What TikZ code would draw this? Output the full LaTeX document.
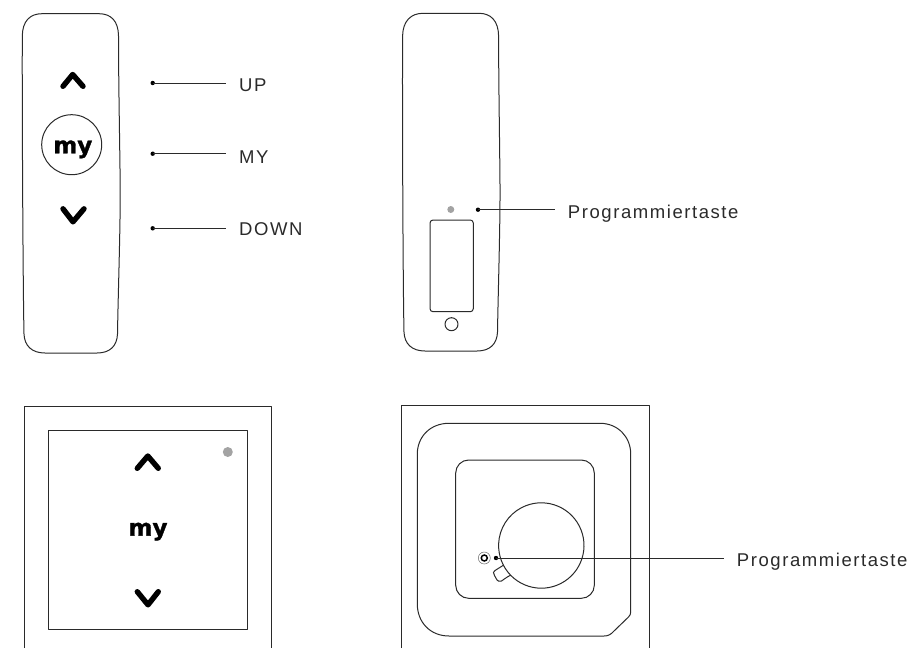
\documentclass[tikz,border=0pt]{standalone}
\usepackage{fontspec}
\setmainfont{Liberation Sans}
\newfontfamily\labelfont[LetterSpace=8.5]{Liberation Sans}
\newfontfamily\myfont[BoldFont={DejaVu Sans Bold},BoldFeatures={FakeBold=1.4}]{DejaVu Sans}
\definecolor{ink}{HTML}{2A2A2A}
\definecolor{ledgray}{HTML}{A3A3A3}
\tikzset{
  outline/.style={draw=ink,line width=1pt,line join=round},
  chevron/.style={draw=black,line width=5.4pt,line cap=round,line join=round},
  leadline/.style={draw=ink,line width=1pt},
  leaddot/.style={circle,fill=black,inner sep=0pt,minimum size=4.4pt},
  leadlabel/.style={anchor=base west,inner sep=0pt,inner xsep=13pt,text=ink,font=\fontsize{18.5}{20}\labelfont},
  led/.style={circle,fill=ledgray,inner sep=0pt},
  mytext/.style={inner sep=0pt,anchor=base,font=\fontsize{23}{25}\myfont\bfseries}
}
\begin{document}
\begin{tikzpicture}[x=1pt,y=1pt,yscale=-1]
\useasboundingbox (0,0) rectangle (913,648);
% --- remote, front
\draw[outline] (42,13.7) -- (99,13.7) .. controls (111,13.7) and (118.4,21) .. (118.5,36)
  .. controls (118.5,90) and (120.5,180) .. (120.2,200)
  .. controls (120,240) and (118,300) .. (117.5,334)
  .. controls (117,346) and (110,353) .. (97,353) -- (45,353)
  .. controls (32,353) and (24.5,346) .. (24,334)
  .. controls (23,290) and (22,100) .. (22.3,36)
  .. controls (22.5,21) and (30,13.7) .. (42,13.7) -- cycle;
\draw[chevron] (63,86.3) -- (72.7,74.5) -- (83,86.3);
\draw[chevron] (63,208.8) -- (73,221.8) -- (84,208.8);
\node[circle,outline,minimum size=60pt,inner sep=0pt] (mybtn) at (71.7,144.7) {};
\node[mytext] (mylogo) at (72.8,153.3) {my};
\node[leaddot] (dotup) at (152.7,83) {};
\node[leaddot] (dotmy) at (152.7,153.7) {};
\node[leaddot] (dotdown) at (152.7,228.3) {};
\node[leadlabel] (labup) at (226,91) {UP};
\node[leadlabel] (labmy) at (226,163.2) {MY};
\node[leadlabel] (labdown) at (226,235.2) {DOWN};
\draw[leadline] (dotup.center) -- (dotup.center -| labup.west);
\draw[leadline] (dotmy.center) -- (dotmy.center -| labmy.west);
\draw[leadline] (dotdown.center) -- (dotdown.center -| labdown.west);
% --- remote, back
\draw[outline] (423,13.3) -- (479,13.3) .. controls (491,13.3) and (498.4,21) .. (498.6,36)
  .. controls (498.6,90) and (500.3,180) .. (500,200)
  .. controls (499.8,240) and (498,300) .. (497.5,332)
  .. controls (497,344) and (490,351) .. (477,351) -- (425,351)
  .. controls (412,351) and (404.5,344) .. (404,332)
  .. controls (403,290) and (402.2,100) .. (402.6,36)
  .. controls (402.8,21) and (411,13.3) .. (423,13.3) -- cycle;
\node[led,minimum size=7pt] (ledback) at (450.8,209.5) {};
\draw[outline,rounded corners=3pt] (430,220) rectangle (473.3,311.7);
\node[circle,outline,minimum size=13pt,inner sep=0pt] (backbtn) at (451.5,324.2) {};
\node[leaddot] (dotback) at (478,209.7) {};
\node[leadlabel] (labback) at (554.7,218) {Programmiertaste};
\draw[leadline] (dotback.center) -- (dotback.center -| labback.west);
% --- wall switch, front
\draw[outline] (24,648) -- (24,406.3) -- (271.7,406.3) -- (271.7,648);
\draw[outline] (48.3,430.7) rectangle (247.3,629);
\node[led,minimum size=10pt] (ledwall) at (227.8,452) {};
\draw[chevron] (137.3,468.3) -- (147.8,456) -- (158.3,468.3);
\draw[chevron] (137.3,591.7) -- (148,604.8) -- (158.3,591.7);
\node[mytext] (mywall) at (148,535.6) {my};
% --- wall switch, back
\draw[outline] (401,648) -- (401,405.7) -- (649.3,405.7) -- (649.3,648);
\draw[outline] (449,423.3) -- (600,423.3) .. controls (618,423.3) and (630.7,437) .. (630.7,454)
  -- (630.7,612) .. controls (630.7,614) and (630,615.5) .. (628.5,617)
  -- (614,631) .. controls (611,634.5) and (608,636) .. (604,636)
  -- (449,636) .. controls (430,636) and (417.3,622) .. (417.3,604)
  -- (417.3,454) .. controls (417.3,437) and (430,423.3) .. (449,423.3) -- cycle;
\draw[outline,rounded corners=13pt] (455.7,460) rectangle (594.3,598.3);
\coordinate (hub) at (541.3,545.5);
\draw[outline] (hub) ++(152.5:42.7pt) arc[start angle=152.5,end angle=-224,radius=42.7pt]
  .. controls (506,577.5) and (503,580) .. (501.5,581)
  .. controls (499.5,582) and (498,581) .. (497,580)
  -- (494.5,575.5) .. controls (493,573) and (493,571.5) .. (495,570.5) -- cycle;
\node[circle,draw=ink!70,line width=0.5pt,minimum size=12pt,inner sep=0pt] (ringout) at (484.3,558) {};
\node[circle,draw=black,line width=1.5pt,minimum size=6pt,inner sep=0pt] (ringin) at (ringout.center) {};
\node[leaddot] (dothub) at (496,558) {};
\node[leadlabel] (labhub) at (723.7,566.2) {Programmiertaste};
\draw[leadline] (dothub.center) -- (dothub.center -| labhub.west);
\end{tikzpicture}
\end{document}
